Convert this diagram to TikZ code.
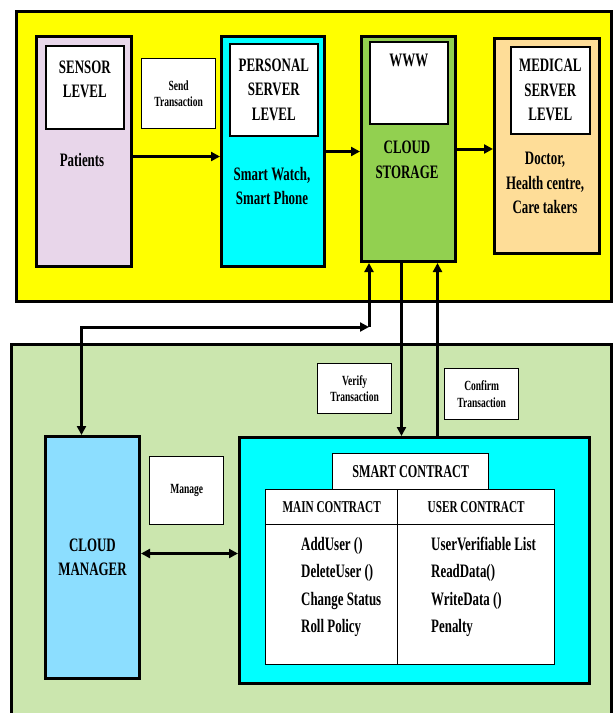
\documentclass[tikz,border=0pt]{standalone}
\usepackage{fontspec}
\setmainfont{Liberation Serif}[FakeStretch=0.68]
\usetikzlibrary{arrows.meta,positioning}
\definecolor{sun}{RGB}{255,255,0}
\definecolor{leaf}{RGB}{203,230,174}
\definecolor{lilac}{RGB}{232,214,234}
\definecolor{aqua}{RGB}{0,255,255}
\definecolor{grass}{RGB}{146,208,80}
\definecolor{peach}{RGB}{254,221,152}
\definecolor{sky}{RGB}{140,222,255}
\begin{document}
\begin{tikzpicture}[x=1pt,y=-1pt,font=\fontsize{19}{24.5}\selectfont\bfseries,
  frame/.style={draw=black,line width=3pt,anchor=north west,inner sep=0pt},
  titlebox/.style={draw=black,line width=1.6pt,fill=white,anchor=north west,inner sep=0pt,align=center},
  cell/.style={draw=black,line width=1.4pt,fill=white,anchor=north west,inner sep=0pt,align=center,font=\fontsize{16.5}{20}\selectfont\bfseries},
  tag/.style={draw=black,line width=1.4pt,fill=white,anchor=north west,inner sep=0pt,align=center,font=\fontsize{14}{16.5}\selectfont\bfseries},
  items/.style={anchor=west,align=left,inner sep=0pt,font=\fontsize{19}{27.3}\selectfont\bfseries},
  arrow/.style={-{Triangle[length=9pt,width=9pt]},line width=3pt,draw=black},
  dblarrow/.style={{Triangle[length=9pt,width=9pt]}-{Triangle[length=9pt,width=9pt]},line width=3pt,draw=black}]
\useasboundingbox (0,0) rectangle (616,713);
% the two layers
\node[frame,fill=sun,minimum width=595pt,minimum height=290pt] (upper) at (15,10) {};
\node[frame,fill=leaf,minimum width=600pt,minimum height=400pt] (lower) at (10,343) {};
% upper levels
\node[frame,fill=lilac,minimum width=95pt,minimum height=230pt] (sensor) at (35,35) {};
\node[frame,fill=aqua,minimum width=103pt,minimum height=230pt] (personal) at (220,35) {};
\node[frame,fill=grass,minimum width=94pt,minimum height=225pt] (cloud) at (360,35) {};
\node[frame,fill=peach,minimum width=105pt,minimum height=215pt] (medical) at (493,37) {};
\node[titlebox,minimum width=78pt,minimum height=83pt,label={[anchor=north,align=center,yshift=-12pt]north:SENSOR\\LEVEL}] (sensortitle) at (45,45) {};
\node[titlebox,minimum width=88pt,minimum height=92pt] (personaltitle) at (229,43) {PERSONAL\\SERVER\\LEVEL};
\node[titlebox,minimum width=78pt,minimum height=82pt,label={[anchor=north,yshift=-10pt]north:WWW}] (wwwtitle) at (369,41) {};
\node[titlebox,minimum width=79pt,minimum height=87pt] (medicaltitle) at (510,46) {MEDICAL\\SERVER\\LEVEL};
\node (patients) at (82,160) {Patients};
\node[align=center] (devices) at (272,186) {Smart Watch,\\Smart Phone};
\node[align=center] (storage) at (407,160) {CLOUD\\STORAGE};
\node[align=center] (carers) at (545,183) {Doctor,\\Health centre,\\Care takers};
\node[tag,minimum width=74pt,minimum height=70pt] (send) at (141,58) {Send\\Transaction};
% lower layer
\node[frame,fill=sky,minimum width=94pt,minimum height=242pt,align=center] (manager) at (44,435) {CLOUD\\MANAGER};
\node[frame,fill=aqua,minimum width=350pt,minimum height=246pt] (contract) at (238,436) {};
\node[tag,minimum width=74pt,minimum height=68pt] (manage) at (149,456) {Manage};
\node[tag,minimum width=74pt,minimum height=50pt] (verify) at (317,363) {Verify\\Transaction};
\node[tag,minimum width=74pt,minimum height=51pt] (confirm) at (444,368) {Confirm\\Transaction};
\node[cell,minimum width=132pt,minimum height=140pt] (mainbody) at (265,524) {};
\node[cell,minimum width=157pt,minimum height=140pt] (userbody) at (397,524) {};
\node[cell,minimum width=132pt,minimum height=35pt] (maincol) at (265,489) {MAIN CONTRACT};
\node[cell,minimum width=157pt,minimum height=35pt] (usercol) at (397,489) {USER CONTRACT};
\node[cell,minimum width=156pt,minimum height=36pt,font=\fontsize{18}{20}\selectfont\bfseries] (contracttitle) at (332,453) {SMART CONTRACT};
\node[items] (mainitems) at (301,587) {AddUser ()\\DeleteUser ()\\Change Status\\Roll Policy};
\node[items] (useritems) at (431,587) {UserVerifiable List\\ReadData()\\WriteData ()\\Penalty};
% connectors
\draw[arrow] ([yshift=-5pt]sensor.east) -- ([yshift=-5pt]sensor.east -| personal.west);
\draw[arrow] (personal.east) -- (personal.east -| cloud.west);
\draw[arrow] (cloud.east) -- (cloud.east -| medical.west);
\coordinate (hub) at (369,327);
\coordinate (down) at ([xshift=-7pt]cloud.south);
\coordinate (up) at ([xshift=29pt]cloud.south);
\draw[dblarrow] ([xshift=-11pt]manager.north) |- (hub);
\draw[arrow] (hub) -- (hub |- cloud.south);
\draw[arrow] (down) -- (down |- contract.north);
\draw[arrow] (up |- contract.north) -- (up);
\draw[dblarrow] ([yshift=4pt]manager.east) -- ([yshift=4pt]manager.east -| contract.west);
\end{tikzpicture}
\end{document}
